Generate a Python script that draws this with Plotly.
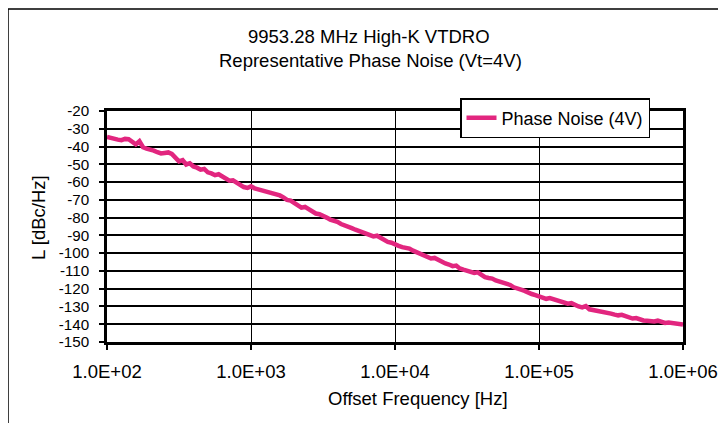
import plotly.graph_objects as go

# Offset frequency [Hz] (log-spaced, 40 points per decade)
freq_hz = [
    100, 105.9, 112.2, 118.9, 125.9, 133.4, 141.3, 149.6, 158.5, 167.9, 177.8, 188.4, 199.5, 211.3, 223.9, 237.1, 251.2, 266.1, 281.8, 298.5,
    316.2, 335.0, 354.8, 375.8, 398.1, 421.7, 446.7, 473.2, 501.2, 530.9, 562.3, 595.7, 631.0, 668.3, 707.9, 749.9, 794.3, 841.4, 891.3, 944.1,
    1000, 1059, 1122, 1189, 1259, 1334, 1413, 1496, 1585, 1679, 1778, 1884, 1995, 2113, 2239, 2371, 2512, 2661, 2818, 2985,
    3162, 3350, 3548, 3758, 3981, 4217, 4467, 4732, 5012, 5309, 5623, 5957, 6310, 6683, 7079, 7499, 7943, 8414, 8913, 9441,
    10000, 10593, 11220, 11885, 12589, 13335, 14125, 14962, 15849, 16788, 17783, 18836, 19953, 21135, 22387, 23714, 25119, 26607, 28184, 29854,
    31623, 33497, 35481, 37584, 39811, 42170, 44668, 47315, 50119, 53088, 56234, 59566, 63096, 66834, 70795, 74989, 79433, 84140, 89125, 94406,
    100000, 105925, 112202, 118850, 125893, 133352, 141254, 149624, 158489, 167880, 177828, 188365, 199526, 211349, 223872, 237137, 251189, 266073, 281838, 298538,
    316228, 334965, 354813, 375837, 398107, 421697, 446684, 473151, 501187, 530884, 562341, 595662, 630957, 668344, 707946, 749894, 794328, 841395, 891251, 944061,
    1000000,
]

# Phase noise L [dBc/Hz]
phase_noise_4v = [
    -34.6, -35.3, -35.8, -36.1, -36.4, -35.7, -35.9, -37.2, -38.8, -37.0, -40.4, -41.2, -41.6, -42.3, -43.2, -43.9, -43.6, -43.3, -44.2, -45.9,
    -48.3, -47.6, -50.1, -49.4, -51.2, -51.9, -53.0, -52.6, -54.5, -55.1, -56.1, -55.6, -57.0, -58.0, -59.2, -59.0, -60.5, -61.4, -62.8, -63.3,
    -62.4, -63.5, -64.0, -64.6, -65.3, -65.8, -66.2, -66.7, -67.5, -68.6, -70.0, -70.4, -71.9, -73.1, -74.4, -74.0, -75.3, -76.6, -77.7, -78.1,
    -79.4, -80.0, -81.1, -81.7, -82.4, -83.6, -84.6, -84.9, -85.9, -86.8, -87.5, -88.3, -88.9, -89.4, -90.6, -90.2, -91.4, -92.6, -93.7, -94.1,
    -94.7, -95.9, -96.6, -96.9, -97.4, -98.6, -99.5, -100.0, -100.9, -102.2, -103.0, -102.7, -103.9, -105.0, -105.8, -106.4, -107.3, -107.0, -108.6, -109.3,
    -109.9, -110.4, -111.1, -110.8, -112.4, -113.5, -114.0, -114.3, -115.4, -115.9, -116.6, -117.0, -117.9, -119.2, -120.1, -120.5, -121.2, -122.4, -123.0, -123.6,
    -124.3, -125.1, -125.7, -125.3, -126.0, -126.9, -127.6, -128.0, -128.4, -128.1, -129.3, -130.0, -130.5, -129.8, -131.6, -132.0, -132.4, -132.9, -133.3, -133.1,
    -134.0, -134.6, -135.0, -134.7, -135.5, -136.2, -136.8, -136.5, -137.4, -137.9, -138.1, -138.5, -138.4, -138.0, -138.8, -139.3, -139.0, -139.4, -139.7, -139.9,
    -140.1,
]

x_tickvals = [1e2, 1e3, 1e4, 1e5, 1e6]
x_ticktext = ["1.0E+02", "1.0E+03", "1.0E+04", "1.0E+05", "1.0E+06"]
y_tickvals = [-150, -140, -130, -120, -110, -100, -90, -80, -70, -60, -50, -40, -30, -20]
y_ticktext = ["-150", "-140", "-130", "-120", "-110", "-100", "-90", "-80", "-70", "-60", "-50", "-40", "-30", "-20"]

title_line1 = "9953.28 MHz High-K VTDRO"
title_line2 = "Representative Phase Noise (Vt=4V)"
x_title = "Offset Frequency [Hz]"
y_title = "L [dBc/Hz]"
series_name = "Phase Noise (4V)"

FONT = "Liberation Sans, Arial, sans-serif"
FS = 18.5
FS_Y = 15.2
W, H = 726, 423
OFF = 8  # page body offset
# plot area in page pixels
PX0, PX1, PY0, PY1 = 107, 683, 111, 342
L, T = PX0 - OFF, PY0 - OFF
R = W - (PX1 - OFF)
B = H - (PY1 - OFF)
PW, PH = PX1 - PX0, PY1 - PY0


def px(x):
    return (x - PX0) / PW


def py(y):
    return (PY1 - y) / PH


fig = go.Figure()
fig.add_trace(go.Scatter(
    x=freq_hz, y=phase_noise_4v, mode="lines", name=series_name,
    line=dict(color="#E2267F", width=4.5),
))

fig.update_layout(
    width=W, height=H,
    margin=dict(l=L, r=R, t=T, b=B, pad=0),
    paper_bgcolor="white", plot_bgcolor="white",
    font=dict(family=FONT, size=FS, color="black"),
    showlegend=True,
    legend=dict(
        x=px(460), y=py(98), xanchor="left", yanchor="top",
        bgcolor="white", bordercolor="black", borderwidth=1.5,
        font=dict(family=FONT, size=18, color="black"),
        itemwidth=30, tracegroupgap=0,
    ),
    xaxis=dict(
        type="log", range=[2, 6], tickvals=x_tickvals, ticktext=x_ticktext,
        showgrid=True, gridcolor="black", gridwidth=1.3,
        showline=True, linecolor="black", linewidth=2.5, mirror=True,
        ticks="outside", ticklen=5, tickwidth=2, tickcolor="black",
        ticklabelstandoff=6, zeroline=False,
    ),
    yaxis=dict(
        range=[-150, -20], tickvals=y_tickvals, ticktext=y_ticktext,
        tickfont=dict(family=FONT, size=FS_Y, color="black"),
        showgrid=True, gridcolor="black", gridwidth=1.8,
        showline=True, linecolor="black", linewidth=2.5, mirror=True,
        ticks="outside", ticklen=5, tickwidth=2, tickcolor="black",
        ticklabelstandoff=7, zeroline=False,
    ),
    shapes=[dict(
        type="rect", xref="paper", yref="paper",
        x0=px(8), x1=1.5, y0=-1.0, y1=py(9),
        line=dict(color="black", width=1.5), fillcolor="rgba(0,0,0,0)", layer="below",
    )],
    annotations=[
        dict(text=title_line1, xref="paper", yref="paper", x=px(369), y=py(36),
             xanchor="center", yanchor="middle", showarrow=False, font=dict(size=FS)),
        dict(text=title_line2, xref="paper", yref="paper", x=px(370), y=py(60),
             xanchor="center", yanchor="middle", showarrow=False, font=dict(size=FS)),
        dict(text=x_title, xref="paper", yref="paper", x=px(418), y=py(398),
             xanchor="center", yanchor="middle", showarrow=False, font=dict(size=FS)),
        dict(text=y_title, xref="paper", yref="paper", x=px(38), y=py(218),
             xanchor="center", yanchor="middle", showarrow=False, textangle=-90, font=dict(size=FS)),
    ],
)

fig.write_html("out.html")
